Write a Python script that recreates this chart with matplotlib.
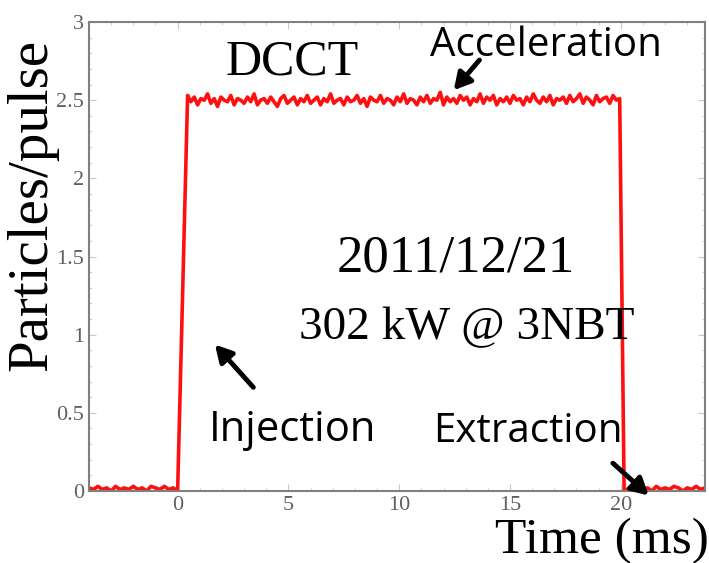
import numpy as np
import matplotlib.pyplot as plt
from matplotlib.ticker import MultipleLocator

plt.rcParams["font.family"] = "Liberation Serif"
plt.rcParams["xtick.labelsize"] = 16
plt.rcParams["ytick.labelsize"] = 16

# baseline before injection (ms, particles/pulse)
pre_t = [-4.0, -3.8, -3.6, -3.4, -3.2, -3.0, -2.8, -2.6, -2.4, -2.2, -2.0,
         -1.8, -1.6, -1.4, -1.2, -1.0, -0.8, -0.6, -0.4, -0.2, 0.0]
pre_v = [0.02, 0.01, 0.03, 0.01, 0.02, 0.00, 0.03, 0.01, 0.02, 0.01, 0.03,
         0.01, 0.02, 0.00, 0.03, 0.02, 0.01, 0.03, 0.01, 0.02, 0.00]

# plateau during acceleration
plat_t = list(np.round(np.arange(0.45, 20.06, 0.15), 2))
plat_v = [2.53, 2.49, 2.52, 2.47, 2.51, 2.50, 2.54, 2.48, 2.51, 2.46, 2.52, 2.50,
          2.49, 2.53, 2.47, 2.51, 2.50, 2.48, 2.52, 2.49, 2.54, 2.47, 2.50, 2.51,
          2.48, 2.52, 2.49, 2.46, 2.51, 2.53, 2.48, 2.50, 2.52, 2.47, 2.51, 2.49,
          2.53, 2.48, 2.50, 2.52, 2.47, 2.51, 2.49, 2.54, 2.48, 2.50, 2.51, 2.47,
          2.52, 2.49, 2.50, 2.53, 2.48, 2.51, 2.46, 2.52, 2.50, 2.49, 2.53, 2.48,
          2.51, 2.50, 2.47, 2.52, 2.49, 2.54, 2.48, 2.51, 2.50, 2.47, 2.52, 2.49,
          2.53, 2.48, 2.51, 2.50, 2.55, 2.47, 2.52, 2.49, 2.51, 2.48, 2.53, 2.50,
          2.52, 2.47, 2.51, 2.49, 2.54, 2.48, 2.52, 2.50, 2.53, 2.47, 2.51, 2.49,
          2.52, 2.48, 2.53, 2.50, 2.51, 2.47, 2.52, 2.49, 2.54, 2.50, 2.48, 2.52,
          2.49, 2.53, 2.47, 2.51, 2.50, 2.52, 2.48, 2.53, 2.49, 2.51, 2.54, 2.48,
          2.52, 2.50, 2.47, 2.53, 2.49, 2.51, 2.52, 2.48, 2.53, 2.50, 2.51]
plat_v = plat_v[:len(plat_t)]

# baseline after extraction
post_t = [20.15, 20.4, 20.6, 20.8, 21.0, 21.2, 21.4, 21.6, 21.8, 22.0, 22.2,
          22.4, 22.6, 22.8, 23.0, 23.2, 23.4, 23.6, 23.8]
post_v = [0.00, 0.02, 0.01, 0.03, 0.01, 0.02, 0.00, 0.03, 0.01, 0.02, 0.01,
          0.03, 0.02, 0.00, 0.02, 0.01, 0.03, 0.01, 0.02]

t = pre_t + plat_t + post_t
v = pre_v + plat_v + post_v

fig = plt.figure(figsize=(7.09, 5.63), dpi=100)
ax = fig.add_axes([89/709, 1 - 491/563, (705-89)/709, (491-22)/563])

ax.plot(t, v, color="#ff1010", lw=2.6)

ax.set_xlim(-4, 23.8)
ax.set_ylim(0, 3)
ax.set_xticks([0, 5, 10, 15, 20])
ax.set_yticks([0, 0.5, 1, 1.5, 2, 2.5, 3])
ax.set_yticklabels(["0", "0.5", "1", "1.5", "2", "2.5", "3"])
ax.xaxis.set_minor_locator(MultipleLocator(1))
ax.yaxis.set_minor_locator(MultipleLocator(0.1))
ax.tick_params(which="both", direction="in", top=True, right=True,
               colors="#c8c8c8", labelcolor="#606060")
ax.tick_params(which="major", length=5)
ax.tick_params(which="minor", length=2.5)
for s in ax.spines.values():
    s.set_color("#808080")
    s.set_linewidth(1.5)

fig.text(32/709, 1 - 205/563, "Particles/pulse", rotation=90,
         fontsize=41, ha="center", va="center")
fig.text(602/709, 1 - 541/563, "Time (ms)", fontsize=37, ha="center", va="center")

ax.text(5.16, 2.74, "DCCT", fontsize=36, ha="center", va="center")
ax.text(12.55, 1.49, "2011/12/21", fontsize=38, ha="center", va="center")
ax.text(13.05, 1.04, "302 kW @ 3NBT", fontsize=34, ha="center", va="center")
ax.text(16.6, 2.85, "Acceleration", family="Open Sans", fontsize=29, ha="center", va="center")
ax.text(5.2, 0.39, "Injection", family="Open Sans", fontsize=30, ha="center", va="center")
ax.text(15.8, 0.38, "Extraction", family="Open Sans", fontsize=29, ha="center", va="center")

arrow = dict(arrowstyle="-|>,head_length=1.0,head_width=0.55", color="black", lw=3.5)
ax.annotate("", xy=(12.38, 2.55), xytext=(13.7, 2.77), arrowprops=arrow)
ax.annotate("", xy=(1.6, 0.95), xytext=(3.5, 0.65), arrowprops=arrow)
ax.annotate("", xy=(21.35, -0.04), xytext=(19.55, 0.19), arrowprops=arrow,
            annotation_clip=False)

fig.savefig("out.png", dpi=100)
